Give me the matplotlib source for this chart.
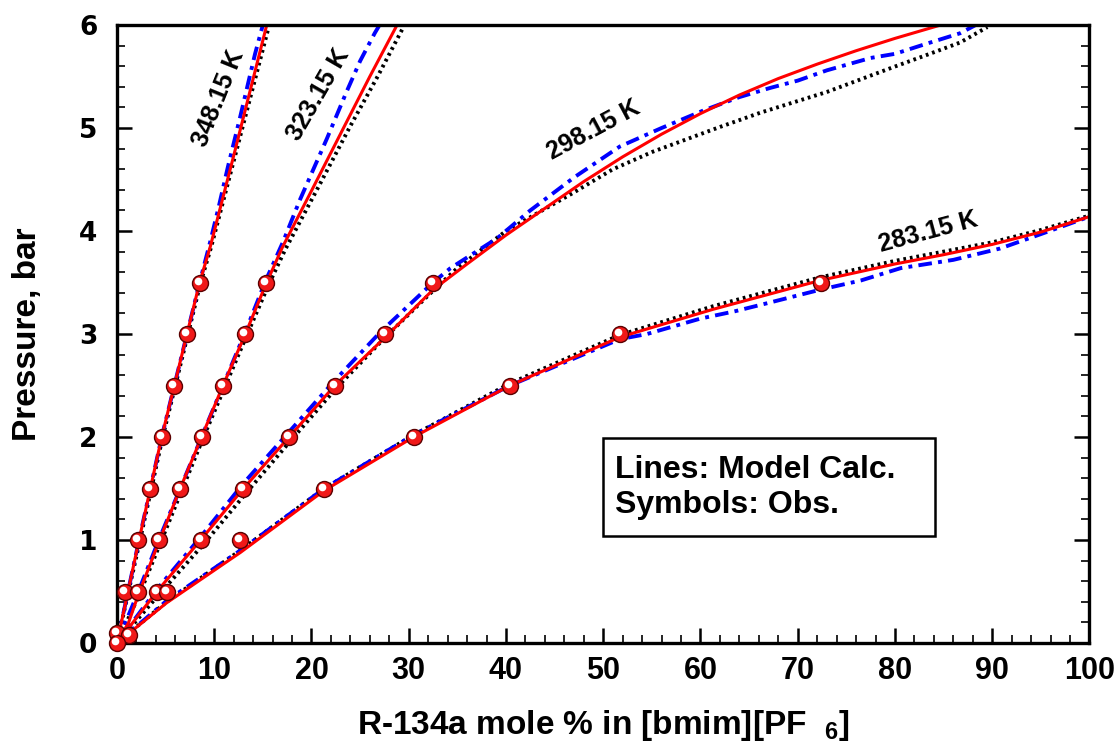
import matplotlib
matplotlib.use("Agg")
import matplotlib.pyplot as plt
from matplotlib.patches import Rectangle
from matplotlib.transforms import offset_copy

plt.rcParams['font.family'] = ['Liberation Sans', 'DejaVu Sans']
plt.rcParams['font.weight'] = 'bold'
plt.rcParams['mathtext.fontset'] = 'custom'
plt.rcParams['mathtext.rm'] = 'Liberation Sans:bold'
plt.rcParams['mathtext.bf'] = 'Liberation Sans:bold'
plt.rcParams['mathtext.default'] = 'bf'

# observed points (symbols)
obs_x_348 = [0.0, 0.8, 2.2, 3.4, 4.6, 5.9, 7.2, 8.5]
obs_p_348 = [0.1, 0.5, 1.0, 1.5, 2.0, 2.5, 3.0, 3.5]
obs_x_323 = [1.2, 2.2, 4.3, 6.5, 8.7, 10.9, 13.2, 15.3]
obs_p_323 = [0.08, 0.5, 1.0, 1.5, 2.0, 2.5, 3.0, 3.5]
obs_x_298 = [0.0, 4.1, 8.6, 13.0, 17.7, 22.4, 27.6, 32.5]
obs_p_298 = [0.0, 0.5, 1.0, 1.5, 2.0, 2.5, 3.0, 3.5]
obs_x_283 = [5.1, 12.7, 21.3, 30.5, 40.4, 51.7, 72.4]
obs_p_283 = [0.5, 1.0, 1.5, 2.0, 2.5, 3.0, 3.5]

# model calc, red solid
red_x_348 = [0, 2.2, 4.6, 7.2, 8.5, 9.6, 12.0, 15.4]
red_p_348 = [0, 0.97, 2.0, 3.0, 3.5, 3.85, 4.73, 6.0]
red_x_323 = [0, 1.2, 2.2, 4.3, 6.5, 8.7, 10.9, 13.2, 15.3, 17.0, 20.0, 23.4, 26.0, 28.8]
red_p_323 = [0, 0.2, 0.47, 0.98, 1.5, 2.0, 2.5, 3.0, 3.48, 3.84, 4.39, 5.02, 5.5, 6.0]
red_x_298 = [0, 4.1, 8.6, 13.0, 17.7, 22.4, 27.6, 32.5, 36.0, 40.0, 44.0, 48.0, 52.0,
             56.0, 60.0, 64.0, 68.0, 72.0, 76.0, 80.0, 84.7]
red_p_298 = [0, 0.5, 1.0, 1.5, 2.0, 2.5, 2.97, 3.43, 3.68, 3.96, 4.22, 4.48, 4.72,
             4.94, 5.14, 5.32, 5.48, 5.62, 5.75, 5.87, 6.0]
red_x_283 = [0, 5.1, 12.7, 21.3, 30.5, 40.4, 51.7, 61.3, 72.3, 80.0, 85.0, 90.0, 95.0, 100]
red_p_283 = [0, 0.39, 0.88, 1.48, 2.0, 2.5, 2.97, 3.24, 3.52, 3.68, 3.77, 3.87, 3.99, 4.14]

# model calc, blue dash-dot
blue_x_348 = [0, 2.2, 4.6, 7.2, 8.5, 9.6, 10.5, 11.4, 12.65, 14.2, 15.0]
blue_p_348 = [0, 0.97, 2.0, 3.0, 3.5, 3.9, 4.25, 4.62, 5.1, 5.72, 6.0]
blue_x_323 = [0, 2.2, 4.3, 8.7, 13.2, 15.3, 17.1, 18.8, 20.2, 21.6, 23.6, 25.0, 26.5, 27.0]
blue_p_323 = [0, 0.5, 1.0, 2.0, 3.02, 3.52, 3.9, 4.3, 4.6, 4.9, 5.35, 5.65, 5.92, 6.0]
blue_x_298 = [0, 4.1, 8.6, 13.0, 17.7, 22.4, 27.1, 32.5, 34.3, 39.1, 42.5, 47.0, 51.7,
              56.0, 60.3, 64.0, 67.2, 70.0, 73.0, 77.5, 80.0, 83.3, 86.7, 88.3]
blue_p_298 = [0, 0.52, 1.03, 1.55, 2.05, 2.55, 3.02, 3.5, 3.64, 3.93, 4.2, 4.52, 4.82,
              5.0, 5.17, 5.3, 5.39, 5.46, 5.56, 5.68, 5.72, 5.82, 5.92, 6.0]
blue_x_283 = [0, 5.1, 12.7, 21.3, 30.5, 40.4, 51.7, 54.5, 60.0, 63.5, 66.9, 72.3, 76.5,
              80.6, 86.0, 90.8, 95.0, 100]
blue_p_283 = [0, 0.41, 0.9, 1.5, 2.02, 2.5, 2.95, 3.0, 3.15, 3.22, 3.3, 3.43, 3.52,
              3.64, 3.72, 3.83, 3.97, 4.14]

# model calc, black dotted
blk_x_348 = [0, 2.3, 4.7, 7.3, 8.6, 9.7, 12.2, 15.6]
blk_p_348 = [0, 0.97, 2.0, 3.0, 3.5, 3.85, 4.75, 5.98]
blk_x_323 = [0, 2.3, 4.5, 8.9, 13.4, 15.6, 17.3, 20.5, 24.0, 26.8, 29.4]
blk_p_323 = [0, 0.47, 0.98, 2.0, 3.0, 3.48, 3.82, 4.39, 5.02, 5.5, 5.97]
blk_x_298 = [0, 4.4, 9.0, 13.4, 18.0, 22.6, 27.6, 32.5, 35.0, 40.0, 46.9, 51.0, 55.1,
             62.0, 66.2, 73.0, 79.8, 83.0, 86.7, 89.5]
blk_p_298 = [0, 0.48, 0.97, 1.47, 1.98, 2.48, 2.97, 3.42, 3.64, 4.0, 4.37, 4.6, 4.77,
             5.01, 5.15, 5.35, 5.59, 5.7, 5.83, 5.98]
blk_x_283 = [0, 5.1, 12.7, 21.3, 30.5, 40.4, 51.7, 61.3, 72.3, 80.0, 85.0, 90.0, 95.0, 100]
blk_p_283 = [0, 0.4, 0.9, 1.5, 2.02, 2.52, 2.99, 3.27, 3.55, 3.71, 3.8, 3.89, 4.01, 4.15]

temp_labels = ['348.15 K', '323.15 K', '298.15 K', '283.15 K']
label_x = [10.4, 20.7, 49.0, 83.4]
label_p = [5.29, 5.32, 4.98, 3.99]
label_rot = [68, 60, 28, 15]

fig = plt.figure(figsize=(11.14, 7.46), dpi=100)
ax = fig.add_axes([0.105, 0.138, 0.873, 0.8285])

blk = [(blk_x_348, blk_p_348), (blk_x_323, blk_p_323), (blk_x_298, blk_p_298), (blk_x_283, blk_p_283)]
blue = [(blue_x_348, blue_p_348), (blue_x_323, blue_p_323), (blue_x_298, blue_p_298), (blue_x_283, blue_p_283)]
red = [(red_x_348, red_p_348), (red_x_323, red_p_323), (red_x_298, red_p_298), (red_x_283, red_p_283)]
obs = [(obs_x_348, obs_p_348), (obs_x_323, obs_p_323), (obs_x_298, obs_p_298), (obs_x_283, obs_p_283)]

for x, p in blk:
    ax.plot(x, p, color='black', lw=2.8, ls=(0, (0.7, 1.0)))
for x, p in blue:
    ax.plot(x, p, color='#0000ff', lw=2.8, ls=(0, (3.5, 1.6, 1.0, 1.6)))
for x, p in red:
    ax.plot(x, p, color='#ff0000', lw=2.2, solid_capstyle='round', solid_joinstyle='round')

# sphere-like symbols: red ball plus white highlight
hl = offset_copy(ax.transData, fig=fig, x=-2.0, y=2.0, units='dots')
for x, p in obs:
    ax.plot(x, p, 'o', ms=11.5, mfc='#f01818', mec='#5a0000', mew=1.0, clip_on=False, zorder=5)
    ax.plot(x, p, 'o', ms=5.5, mfc='white', mec='none', transform=hl, clip_on=False, zorder=6)

for t, x, p, r in zip(temp_labels, label_x, label_p, label_rot):
    ax.text(x, p, t, rotation=r, ha='center', va='center', fontsize=18, fontweight='bold')

ax.add_patch(Rectangle((0.4995, 0.173), 0.342, 0.159, transform=ax.transAxes,
                       fill=False, lw=1.8, ec='black', zorder=7))
ax.text(0.512, 0.252, 'Lines: Model Calc.\nSymbols: Obs.', transform=ax.transAxes,
        ha='left', va='center', fontsize=23, fontweight='bold', linespacing=1.2, zorder=8)

ax.set_xlim(0, 100)
ax.set_ylim(0, 6)
ax.set_xticks(range(0, 101, 10))
ax.set_xticks(range(0, 101, 2), minor=True)
ax.set_yticks(range(0, 7))
ax.set_yticks([i * 0.2 for i in range(31)], minor=True)
ax.tick_params(which='both', direction='in', right=True, top=False)
ax.tick_params(which='major', length=11, width=1.8)
ax.tick_params(which='minor', length=5.5, width=1.2)
ax.tick_params(axis='x', which='major', pad=9)
ax.tick_params(axis='y', which='major', pad=14)
for s in ax.spines.values():
    s.set_linewidth(2.4)

for lab in ax.get_xticklabels():
    lab.set_family(['Liberation Sans Narrow', 'Liberation Sans'])
    lab.set_fontsize(22)
    lab.set_fontweight('bold')
for lab in ax.get_yticklabels():
    lab.set_family(['DejaVu Sans'])
    lab.set_fontsize(19)
    lab.set_fontweight('bold')

ax.set_xlabel(r'R-134a mole % in [bmim][PF  $_{6}$]', fontsize=24, fontweight='bold', labelpad=16)
ax.set_ylabel('Pressure, bar', fontsize=24, fontweight='bold', labelpad=26)

plt.savefig('out.png', dpi=100)
